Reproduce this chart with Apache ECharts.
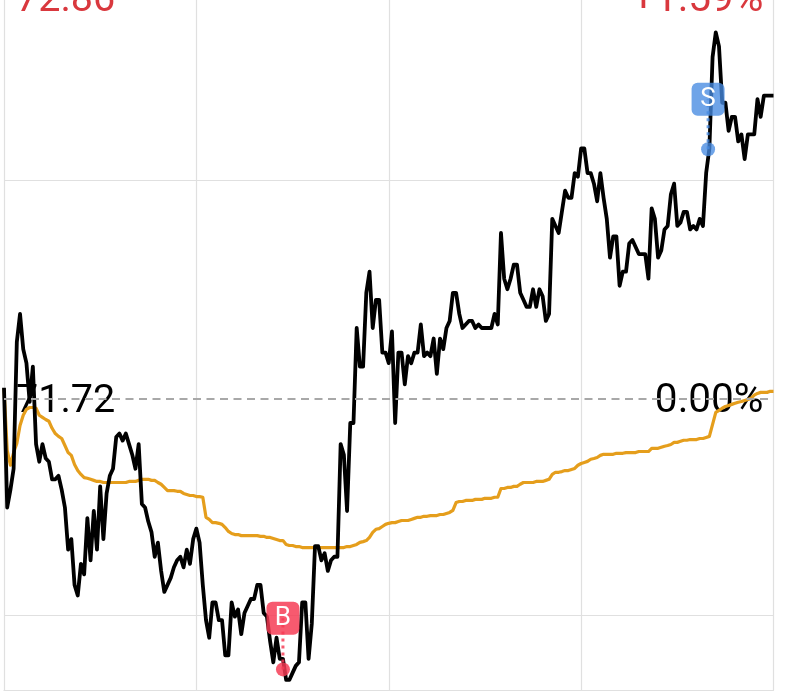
<!DOCTYPE html>
<html><head><meta charset="utf-8">
<style>html,body{margin:0;padding:0;background:#fff;overflow:hidden}#c{width:790px;height:692px}</style>
<script src="https://cdn.jsdelivr.net/npm/echarts@6/dist/echarts.min.js"></script>
</head><body><div id="c"></div>
<script>
const prices = [
71.75,71.41,71.46,71.52,71.88,71.96,71.86,71.82,71.71,71.81,
71.59,71.54,71.59,71.55,71.54,71.49,71.49,71.50,71.46,71.41,
71.29,71.32,71.19,71.16,71.25,71.22,71.38,71.26,71.40,71.29,
71.47,71.32,71.45,71.50,71.52,71.61,71.62,71.60,71.62,71.59,
71.56,71.52,71.59,71.42,71.41,71.37,71.34,71.27,71.31,71.23,
71.17,71.19,71.21,71.24,71.26,71.27,71.24,71.29,71.25,71.32,
71.35,71.31,71.19,71.09,71.04,71.14,71.14,71.09,71.09,70.99,
70.99,71.14,71.10,71.12,71.05,71.11,71.13,71.15,71.15,71.19,
71.19,71.11,71.10,71.03,70.97,71.04,70.98,70.98,70.92,70.92,
70.94,70.96,70.97,71.14,71.14,70.98,71.08,71.30,71.30,71.26,
71.28,71.23,71.26,71.27,71.27,71.59,71.56,71.40,71.65,71.65,
71.92,71.81,71.81,72.02,72.08,71.92,72.00,72.00,71.85,71.85,
71.82,71.91,71.65,71.85,71.85,71.76,71.84,71.82,71.85,71.85,
71.93,71.84,71.85,71.84,71.89,71.79,71.89,71.86,71.92,71.94,
72.02,72.02,71.96,71.92,71.93,71.94,71.94,71.92,71.93,71.92,
71.92,71.92,71.92,71.96,71.93,72.19,72.06,72.03,72.06,72.10,
72.10,72.02,72.00,71.98,71.98,72.03,71.98,72.03,72.01,71.94,
71.96,72.23,72.21,72.19,72.25,72.31,72.29,72.29,72.36,72.35,
72.43,72.43,72.36,72.36,72.33,72.28,72.36,72.29,72.23,72.12,
72.18,72.18,72.04,72.08,72.08,72.16,72.17,72.15,72.13,72.13,
72.13,72.06,72.26,72.23,72.12,72.14,72.20,72.21,72.30,72.33,
72.21,72.22,72.25,72.25,72.20,72.21,72.20,72.23,72.21,72.36,
72.43,72.69,72.76,72.72,72.56,72.56,72.48,72.52,72.52,72.45,
72.47,72.40,72.47,72.47,72.47,72.57,72.52,72.58,72.58,72.58,72.58];
const averages = [
71.748,71.572,71.530,71.566,71.592,71.643,71.672,71.689,71.694,71.694,
71.692,71.672,71.666,71.660,71.655,71.635,71.620,71.612,71.606,71.586,
71.566,71.558,71.532,71.515,71.504,71.495,71.493,71.490,71.487,71.484,
71.484,71.481,71.481,71.481,71.481,71.481,71.481,71.481,71.481,71.484,
71.484,71.484,71.487,71.490,71.490,71.490,71.487,71.487,71.481,71.476,
71.467,71.458,71.458,71.458,71.456,71.456,71.450,71.447,71.444,71.444,
71.441,71.441,71.439,71.382,71.376,71.367,71.367,71.365,71.362,71.353,
71.342,71.336,71.333,71.333,71.330,71.330,71.330,71.330,71.330,71.330,
71.328,71.328,71.325,71.325,71.322,71.319,71.316,71.316,71.305,71.302,
71.302,71.299,71.299,71.296,71.296,71.296,71.296,71.296,71.296,71.296,
71.296,71.296,71.296,71.296,71.296,71.296,71.296,71.299,71.299,71.302,
71.305,71.311,71.313,71.316,71.325,71.339,71.348,71.350,71.356,71.362,
71.365,71.367,71.367,71.370,71.373,71.373,71.373,71.376,71.379,71.382,
71.382,71.385,71.385,71.387,71.387,71.387,71.390,71.390,71.393,71.396,
71.402,71.424,71.427,71.427,71.430,71.430,71.430,71.433,71.433,71.433,
71.436,71.436,71.436,71.439,71.439,71.464,71.464,71.467,71.467,71.470,
71.470,71.476,71.481,71.481,71.481,71.481,71.484,71.484,71.484,71.487,
71.490,71.504,71.510,71.510,71.512,71.515,71.515,71.518,71.521,71.530,
71.535,71.538,71.541,71.547,71.549,71.552,71.558,71.561,71.561,71.561,
71.561,71.564,71.564,71.564,71.566,71.566,71.566,71.566,71.569,71.569,
71.569,71.569,71.578,71.578,71.578,71.581,71.584,71.586,71.589,71.595,
71.595,71.598,71.601,71.601,71.603,71.603,71.603,71.606,71.606,71.609,
71.612,71.646,71.680,71.686,71.692,71.697,71.700,71.703,71.706,71.709,
71.711,71.714,71.717,71.720,71.729,71.734,71.737,71.737,71.737,71.740,71.740];
const basePrice = 71.72;
const highLabel = 72.86;
const gridPrices = [71.103, 72.34];
const priceLabels = [highLabel, basePrice];
const buyTrade = {minute: 87, price: 70.95, tagPrice: 71.095, text: 'B'};
const sellTrade = {minute: 219.6, price: 72.428, tagPrice: 72.57, text: 'S'};

const RED = '#d9383e', BUY = 'rgba(246,58,84,.84)', SELL = 'rgba(70,138,226,.78)';
const font = 'Roboto';
const pct = v => { const p = (v - basePrice) / basePrice * 100; return (p > 0 ? '+' : '') + p.toFixed(2) + '%'; };
const withIndex = a => a.map((v, i) => [i, v]);
const tag = (v, s) => '{' + (Number(v) > basePrice ? 'up' : 'flat') + '|' + s + '}';
const labelRich = size => ({
  up:{color:RED, fontFamily:font, fontSize:size, padding:[7,0,0,0]},
  flat:{color:'#000', fontFamily:font, fontSize:size, padding:[7,0,0,0]}
});

function tradeSeries(t, color) {
  return [
    {type:'line', data:[[t.minute,t.price],[t.minute,t.tagPrice]], symbol:'none', z:6, silent:true,
     lineStyle:{color:color,width:3,type:[3,4]}},
    {type:'scatter', data:[[t.minute,t.price]], symbolSize:14, z:7, silent:true, itemStyle:{color:color,opacity:1}},
    {type:'scatter', data:[[t.minute,t.tagPrice]], symbolSize:1, z:8, silent:true, itemStyle:{color:'rgba(0,0,0,0)',opacity:1},
     label:{show:true, position:'inside', formatter:t.text, color:'#fff', fontFamily:font, fontSize:26,
            width:33, height:33, lineHeight:33, align:'center', verticalAlign:'middle', opacity:1,
            backgroundColor:color, borderRadius:6}}
  ];
}

const chart = echarts.init(document.getElementById('c'), null, {renderer:'canvas'});
const yBase = {type:'value', min:70.89, max:72.957, axisLine:{show:false}};
chart.setOption({
  animation:false,
  backgroundColor:'#fff',
  grid:{left:4, right:16.5, top:-37, bottom:1.5, containLabel:false, outerBoundsMode:'none'},
  xAxis:{type:'value', min:0, max:240, interval:60,
    axisLine:{show:true, onZero:false, lineStyle:{color:'#e0e0e0',width:1.2}},
    axisTick:{show:false}, axisLabel:{show:false},
    splitLine:{show:true, lineStyle:{color:'#e0e0e0',width:1.2}}},
  yAxis:[
    Object.assign({}, yBase, {position:'left',
      axisTick:{show:false, customValues:gridPrices},
      splitLine:{show:true, lineStyle:{color:'#e0e0e0',width:1.2}},
      axisLabel:{show:true, inside:true, margin:12, customValues:priceLabels,
        formatter:v=>tag(v, Number(v).toFixed(2)), rich:labelRich(39.5)}}),
    Object.assign({}, yBase, {position:'right',
      axisTick:{show:false, customValues:gridPrices},
      splitLine:{show:false},
      axisLabel:{show:true, inside:true, margin:10, customValues:priceLabels,
        formatter:v=>tag(v, pct(Number(v))), rich:labelRich(40.5)}})
  ],
  series:[
    {type:'line', name:'average', data:withIndex(averages), symbol:'none', z:3, silent:true,
     lineStyle:{color:'#e59e1c',width:3.2,join:'round'},
     markLine:{silent:true, symbol:'none', label:{show:false}, animation:false,
       lineStyle:{color:'#a8a8a8',width:2,type:[8,5.5]}, data:[{yAxis:basePrice}]}},
    {type:'line', name:'price', data:withIndex(prices), symbol:'none', z:4, silent:true,
     lineStyle:{color:'#000',width:3.8,join:'round'}},
    ...tradeSeries(buyTrade, BUY),
    ...tradeSeries(sellTrade, SELL)
  ]
});
</script></body></html>
